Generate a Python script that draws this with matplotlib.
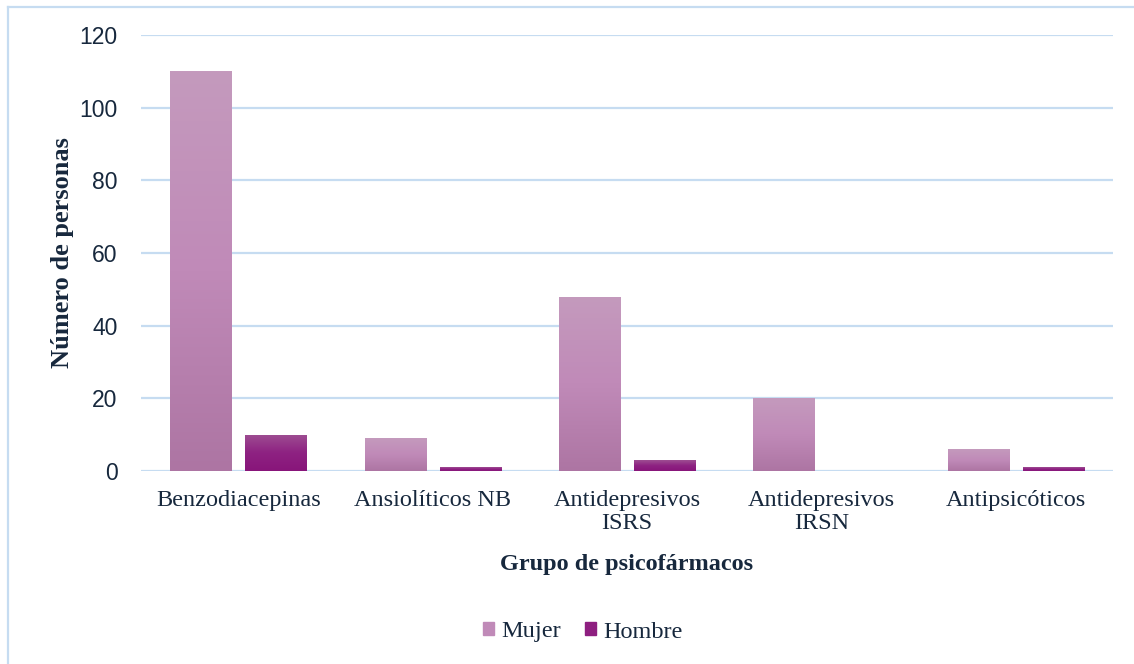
import matplotlib.pyplot as plt
import numpy as np
from matplotlib.colors import LinearSegmentedColormap
from matplotlib.lines import Line2D

categories = ["Benzodiacepinas", "Ansiolíticos NB", "Antidepresivos\nISRS",
              "Antidepresivos\nIRSN", "Antipsicóticos"]
mujer = [110, 9, 48, 20, 6]
hombre = [10, 1, 3, 0, 1]
yticks = [0, 20, 40, 60, 80, 100, 120]

text_color = "#17283D"
grid_color = "#C6DCF1"

# vertical gradients, light at the top, darker at the base
cmap_mujer = LinearSegmentedColormap.from_list("mujer", ["#AD75A3", "#C08AB8", "#C49ABD"])
cmap_hombre = LinearSegmentedColormap.from_list("hombre", ["#88157A", "#8E2282", "#9E4E92"])

fig = plt.figure(figsize=(11.34, 6.64), dpi=100)
ax = fig.add_axes([141 / 1134, 1 - 471 / 664, (1113 - 141) / 1134, (471 - 35) / 664])

x = np.arange(len(categories))
width = 0.314
offset = 0.193

for val in yticks:
    ax.axhline(val, color=grid_color, lw=1.6, zorder=0)

grad = np.linspace(0, 1, 256).reshape(-1, 1)


def gradient_bars(xs, vals, cmap):
    bars = ax.bar(xs, vals, width, color="none", edgecolor="none", zorder=2)
    for b in bars:
        if b.get_height() <= 0:
            continue
        x0, y0 = b.get_x(), b.get_y()
        im = ax.imshow(grad, cmap=cmap, aspect="auto", origin="lower",
                       extent=[x0, x0 + b.get_width(), y0, y0 + b.get_height()],
                       zorder=2)
        im.set_clip_path(b)
    return bars


gradient_bars(x - offset, mujer, cmap_mujer)
gradient_bars(x + offset, hombre, cmap_hombre)
ax.set_xlim(-0.5, len(categories) - 0.5)
ax.set_ylim(0, 120)

for s in ax.spines.values():
    s.set_visible(False)

ax.set_yticks(yticks)
ax.set_yticklabels([str(v) for v in yticks], family="Liberation Sans",
                   fontsize=16.5, color=text_color)
ax.set_xticks(x)
ax.set_xticklabels(categories, family="Liberation Serif", fontsize=17.5,
                   color=text_color, linespacing=1.12, va="top")
ax.tick_params(axis="both", length=0)
ax.tick_params(axis="y", pad=17)
ax.tick_params(axis="x", pad=14)

ax.set_ylabel("Número de personas", family="Liberation Serif", fontsize=19,
              fontweight="bold", color=text_color)
ax.yaxis.set_label_coords(-0.069, 0.5)
ax.set_xlabel("Grupo de psicofármacos", family="Liberation Serif", fontsize=17.5,
              fontweight="bold", color=text_color)
ax.xaxis.set_label_coords(0.5, -0.19)

handles = [plt.Rectangle((0, 0), 1, 1, color="#C08AB8"),
           plt.Rectangle((0, 0), 1, 1, color="#8E1F80")]
fig.legend(handles, ["Mujer", "Hombre"], loc="center", bbox_to_anchor=(583 / 1134, 1 - 632 / 664),
           ncol=2, frameon=False, prop={"family": "Liberation Serif", "size": 17.5},
           handlelength=0.45, handleheight=0.45, handletextpad=0.3, columnspacing=1.0,
           labelcolor=text_color)

# outer chart frame (top and left edges visible)
fig.add_artist(Line2D([7.5 / 1134, 1], [1 - 6.5 / 664, 1 - 6.5 / 664], color=grid_color, lw=1.6))
fig.add_artist(Line2D([7.5 / 1134, 7.5 / 1134], [0, 1 - 6.5 / 664], color=grid_color, lw=1.6))

fig.savefig("out.png", dpi=100)
